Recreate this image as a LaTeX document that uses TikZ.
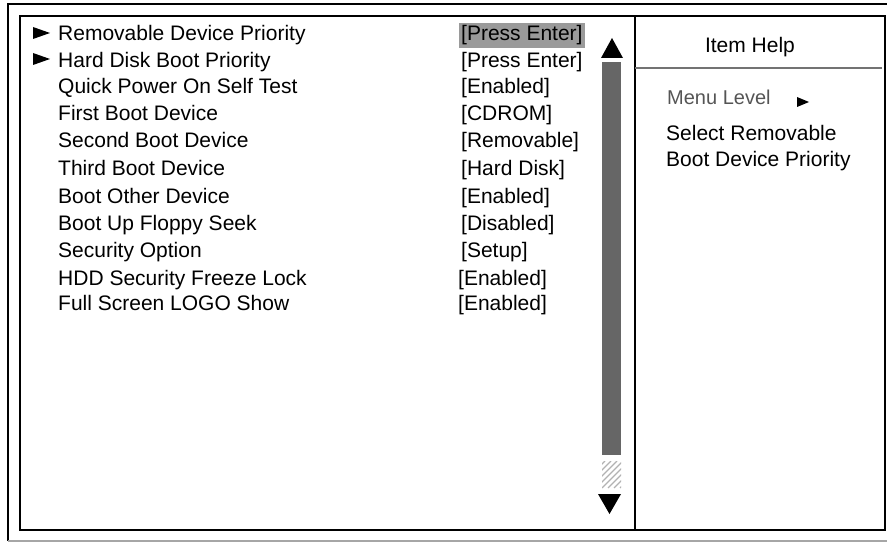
\documentclass[tikz,border=0pt]{standalone}
\usepackage{fontspec}
\setmainfont{Liberation Sans}
\definecolor{hilite}{HTML}{9A9A9A}
\definecolor{barfill}{HTML}{666666}
\definecolor{menugray}{HTML}{555555}
\tikzset{
  item/.style={anchor=base west, inner sep=0pt, font=\fontsize{21}{24}\selectfont},
  value/.style={item},
  helptext/.style={item},
  frame/.style={line width=2pt, black},
}
\begin{document}
\begin{tikzpicture}[x=1pt,y=-1pt]
  \useasboundingbox (0,0) rectangle (887,543);
  % outer and inner frames
  \draw[frame] (887,4) -- (8,4) -- (8,541);
  \draw[line width=1.5pt, black!35] (8,541) -- (887,541);
  \draw[frame] (20,16) rectangle (885,530);
  \draw[line width=1.3pt] (635,16) -- (635,530);
  \draw[line width=1.5pt, black!55] (635,68) -- (882,68);
  % highlight of the selected value
  \fill[hilite] (459,23) rectangle (585,48);
  % menu items
  \draw
    (58,41) node[item] (rem){Removable Device Priority}
    (58,67) node[item] (hdd){Hard Disk Boot Priority}
    (58,94) node[item] (quick){Quick Power On Self Test}
    (58,121) node[item] (first){First Boot Device}
    (58,147) node[item] (second){Second Boot Device}
    (58,175) node[item] (third){Third Boot Device}
    (58,203) node[item] (other){Boot Other Device}
    (58,230) node[item] (floppy){Boot Up Floppy Seek}
    (58,257) node[item] (secopt){Security Option}
    (58,285) node[item] (freeze){HDD Security Freeze Lock}
    (58,310) node[item] (logo){Full Screen LOGO Show};
  % values
  \draw
    (461,41) node[value] (vrem){[Press Enter]}
    (461,67) node[value] (vhdd){[Press Enter]}
    (461,94) node[value] (vquick){[Enabled]}
    (461,121) node[value] (vfirst){[CDROM]}
    (461,147) node[value] (vsecond){[Removable]}
    (461,175) node[value] (vthird){[Hard Disk]}
    (461,203) node[value] (vother){[Enabled]}
    (461,230) node[value] (vfloppy){[Disabled]}
    (461,257) node[value] (vsecopt){[Setup]}
    (458,285) node[value] (vfreeze){[Enabled]}
    (458,310) node[value] (vlogo){[Enabled]};
  % submenu markers
  \fill (33,27) -- (33,39) -- (50,33) -- cycle;
  \fill (33,53) -- (33,65) -- (50,59) -- cycle;
  % scroll bar
  \fill (601,58) -- (623,58) -- (612,38) -- cycle;
  \fill[barfill] (602,62) rectangle (621,455);
  \begin{scope}
    \clip (602,461) rectangle (621,488);
    \foreach \k in {0,...,8}
      \draw[black!30, line width=1.2pt] (572+\k*6,488) -- ++(27,-27);
  \end{scope}
  \fill (598,494) -- (621,494) -- (609.5,514) -- cycle;
  % item help
  \node[font=\fontsize{21}{24}\selectfont, inner sep=0pt] (help) at (750,47) {Item Help};
  \draw
    (667,104) node[helptext, text=menugray, font=\fontsize{20}{24}\selectfont] (level){Menu Level}
    (666,140) node[helptext] (sel1){Select Removable}
    (666,166) node[helptext] (sel2){Boot Device Priority};
  \fill (797,97) -- (797,107) -- (809,102) -- cycle;
\end{tikzpicture}
\end{document}
